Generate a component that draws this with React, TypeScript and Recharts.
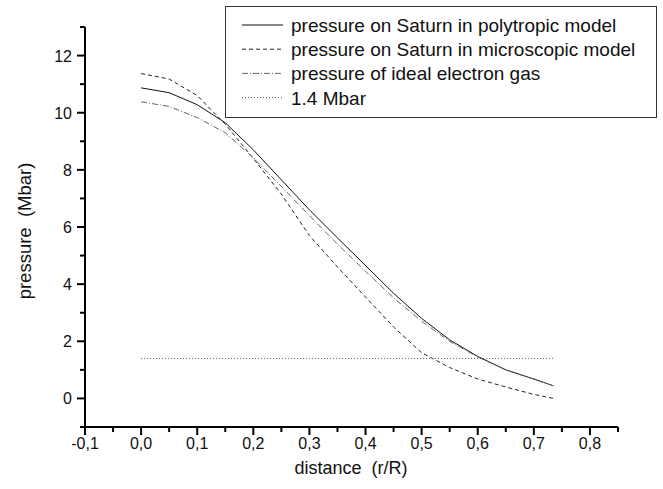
import React from "react";
import { LineChart, Line, XAxis, YAxis, Legend, Label } from "recharts";

// distance r/R and pressure values (Mbar)
const distance = [0, 0.05, 0.1, 0.15, 0.2, 0.25, 0.3, 0.35, 0.4, 0.45, 0.5, 0.55, 0.6, 0.65, 0.7, 0.735];
const polytropic = [10.87, 10.7, 10.28, 9.65, 8.7, 7.65, 6.6, 5.62, 4.65, 3.68, 2.8, 2.05, 1.47, 1.0, 0.68, 0.44];
const microscopic = [11.37, 11.18, 10.6, 9.6, 8.4, 7.15, 5.7, 4.6, 3.55, 2.5, 1.6, 1.08, 0.68, 0.4, 0.14, 0.0];
const electronGas = [10.38, 10.22, 9.83, 9.3, 8.42, 7.42, 6.4, 5.4, 4.45, 3.52, 2.7, 2.0, 1.45, 1.0, 0.67, 0.44];
const REF_LEVEL = 1.4;

const xTicks = [-0.1, -0.05, 0, 0.05, 0.1, 0.15, 0.2, 0.25, 0.3, 0.35, 0.4, 0.45, 0.5, 0.55, 0.6, 0.65, 0.7, 0.75, 0.8, 0.85];
const yTicks = [-1, 0, 1, 2, 3, 4, 5, 6, 7, 8, 9, 10, 11, 12, 13];

const seriesInfo = [
  { key: "poly", name: "pressure on Saturn in polytropic model", stroke: "#111", dash: undefined },
  { key: "micro", name: "pressure on Saturn in microscopic model", stroke: "#222", dash: "4 3" },
  { key: "gas", name: "pressure of ideal electron gas", stroke: "#666", dash: "6 2 1 2" },
  { key: "ref", name: "1.4 Mbar", stroke: "#555", dash: "1 2" },
];

const rows = distance.map((x, i) => ({
  x,
  poly: polytropic[i],
  micro: microscopic[i],
  gas: electronGas[i],
  ref: REF_LEVEL,
}));

const FONT = "'Liberation Sans', Arial, sans-serif";

const isMajorX = (v: number) => Math.abs(v * 10 - Math.round(v * 10)) < 1e-6;

const XTick = (props: any) => {
  const { x, y, payload } = props;
  const v = payload.value as number;
  const major = isMajorX(v);
  return (
    <g>
      <line x1={x} x2={x} y1={y} y2={y + (major ? 8 : 5)} stroke="#000" strokeWidth={2} />
      {major && v <= 0.8 && (
        <text x={x} y={y + 22} textAnchor="middle" fontSize={16} fontFamily={FONT} fill="#111">
          {v.toFixed(1).replace(".", ",")}
        </text>
      )}
    </g>
  );
};

const YTick = (props: any) => {
  const { x, y, payload } = props;
  const v = payload.value as number;
  const major = v % 2 === 0;
  return (
    <g>
      <line x1={x - (major ? 8 : 5)} x2={x} y1={y} y2={y} stroke="#000" strokeWidth={2} />
      {major && (
        <text x={x - 13} y={y + 6} textAnchor="end" fontSize={16} fontFamily={FONT} fill="#111">
          {v}
        </text>
      )}
    </g>
  );
};

const LegendBox = () => (
  <svg width={432} height={112} style={{ display: "block" }}>
    <rect x={0.5} y={0.5} width={431} height={111} fill="#fff" stroke="#333" strokeWidth={1} />
    {seriesInfo.map((s, i) => {
      const cy = 19 + i * 24.2;
      return (
        <g key={s.key}>
          <line x1={17} x2={58} y1={cy} y2={cy} stroke={s.stroke} strokeWidth={1} strokeDasharray={s.dash} />
          <text x={66} y={cy + 7} fontSize={19} fontFamily={FONT} fill="#111">
            {s.name}
          </text>
        </g>
      );
    })}
  </svg>
);

export default function App() {
  return (
    <div style={{ position: "absolute", left: 0, top: 0, background: "#fff" }}>
      <LineChart width={663} height={489} data={rows} margin={{ top: 27, right: 45, bottom: 22, left: 45 }}>
        <XAxis
          dataKey="x"
          type="number"
          domain={[-0.1, 0.85]}
          ticks={xTicks}
          interval={0}
          tick={XTick}
          tickLine={false}
          tickSize={0}
          tickMargin={0}
          axisLine={{ stroke: "#000", strokeWidth: 2 }}
          height={40}
          allowDataOverflow
        >
          <Label
            content={() => (
              <text x={351} y={474} textAnchor="middle" fontSize={18} fontFamily={FONT} fill="#111" style={{ whiteSpace: "pre" }}>
                {"distance  (r/R)"}
              </text>
            )}
          />
        </XAxis>
        <YAxis
          type="number"
          domain={[-1, 13]}
          ticks={yTicks}
          interval={0}
          tick={YTick}
          tickLine={false}
          tickSize={0}
          tickMargin={0}
          axisLine={{ stroke: "#000", strokeWidth: 2 }}
          width={40}
          allowDataOverflow
        >
          <Label
            content={() => (
              <text
                x={31}
                y={231}
                textAnchor="middle"
                fontSize={18.5}
                fontFamily={FONT}
                fill="#111"
                transform="rotate(-90 31 231)"
                style={{ whiteSpace: "pre" }}
              >
                {"pressure  (Mbar)"}
              </text>
            )}
          />
        </YAxis>
        <Legend
          layout="horizontal"
          verticalAlign="middle"
          align="center"
          content={LegendBox}
          wrapperStyle={{ position: "absolute", left: 225, top: 6, width: 432, height: 112 }}
        />
        {seriesInfo.map((s) => (
          <Line
            key={s.key}
            type="linear"
            dataKey={s.key}
            name={s.name}
            stroke={s.stroke}
            strokeWidth={1}
            strokeDasharray={s.dash}
            dot={false}
            activeDot={false}
            isAnimationActive={false}
          />
        ))}
      </LineChart>
    </div>
  );
}
